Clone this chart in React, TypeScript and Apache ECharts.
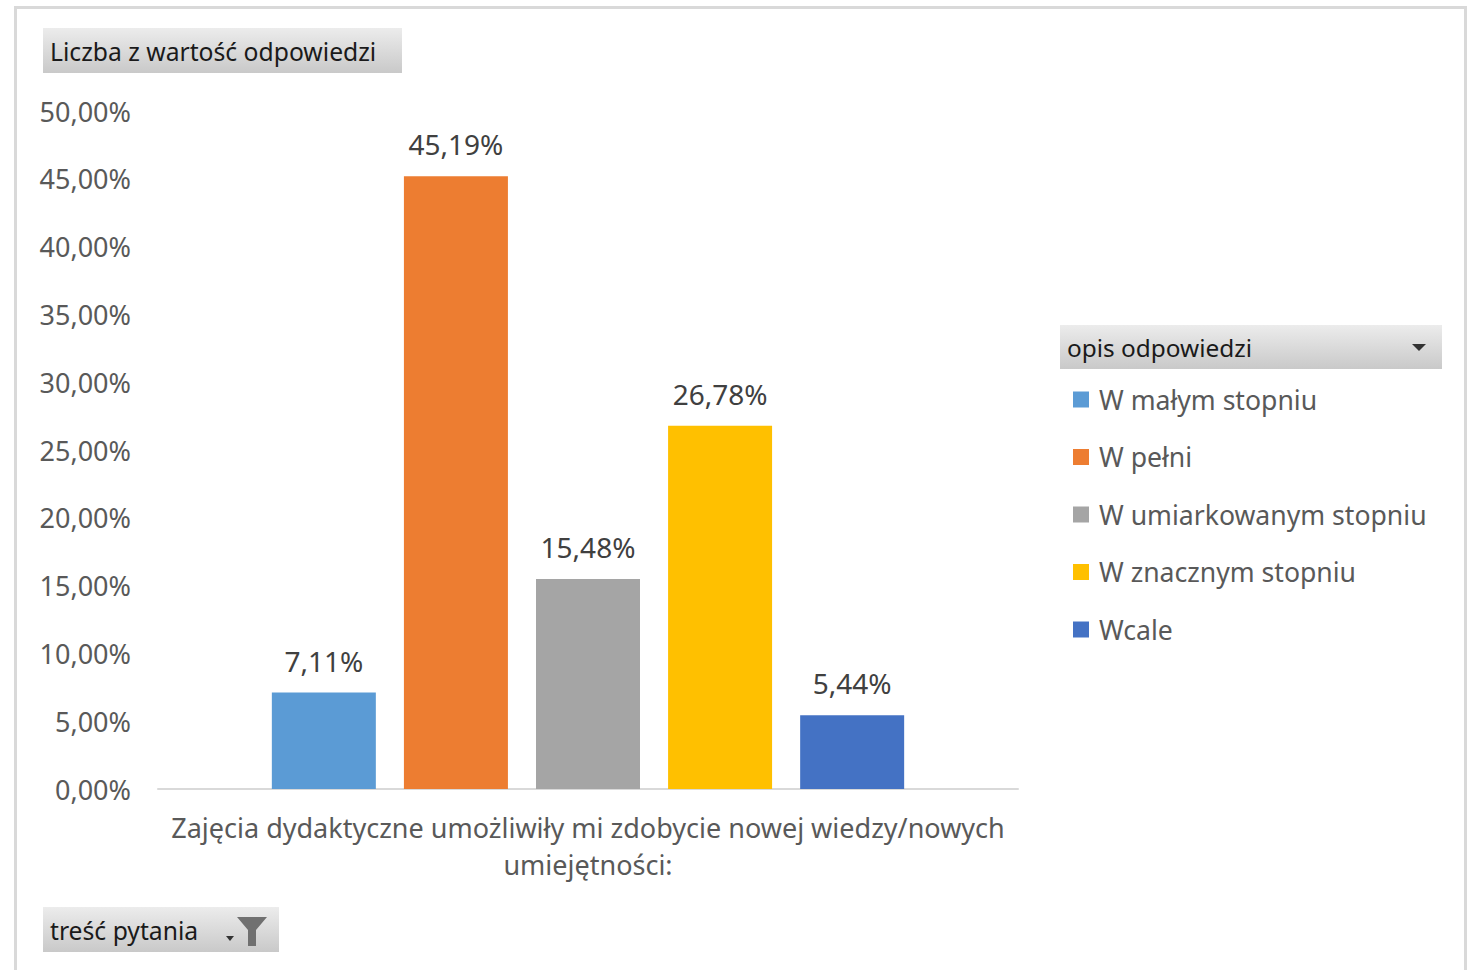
import React, { useEffect, useRef } from "react";
import * as echarts from "echarts";

const categories = ["Zajęcia dydaktyczne umożliwiły mi zdobycie nowej wiedzy/nowych\numiejętności:"];
const seriesNames = ["W małym stopniu", "W pełni", "W umiarkowanym stopniu", "W znacznym stopniu", "Wcale"];
const seriesValues = [7.11, 45.19, 15.48, 26.78, 5.44];
const seriesColors = ["#5B9BD5", "#ED7D31", "#A5A5A5", "#FFC000", "#4472C4"];
const yTicks = { min: 0, max: 50, interval: 5 };
const buttonTitle = "Liczba z wartość odpowiedzi";
const legendTitle = "opis odpowiedzi";
const filterTitle = "treść pytania";

const FONT = "'Noto Sans', sans-serif";
const fmt = (v: number) => v.toFixed(2).replace(".", ",") + "%";

const btnFill = new echarts.graphic.LinearGradient(0, 0, 0, 1, [
  { offset: 0, color: "#ececec" },
  { offset: 1, color: "#c9c9c9" },
]);

export default function App() {
  const ref = useRef<HTMLDivElement>(null);
  useEffect(() => {
    if (!ref.current) return;
    const chart = echarts.init(ref.current, undefined, { renderer: "svg" });
    chart.setOption({
      animation: false,
      backgroundColor: "#ffffff",
      grid: { left: 158, top: 111, width: 860, height: 678, containLabel: false },
      legend: {
        orient: "vertical",
        left: 1068,
        top: 381,
        icon: "rect",
        itemWidth: 16,
        itemHeight: 16,
        itemGap: 30.5,
        selectedMode: false,
        textStyle: { fontFamily: FONT, fontSize: 26.6, color: "#595959", padding: [0, 0, 0, 5] },
        data: seriesNames,
      },
      xAxis: {
        type: "category",
        data: categories,
        axisLine: { lineStyle: { color: "#d9d9d9", width: 2 } },
        axisTick: { show: false },
        axisLabel: {
          fontFamily: FONT,
          fontSize: 27,
          color: "#595959",
          lineHeight: 37,
          margin: 20,
        },
      },
      yAxis: {
        type: "value",
        min: yTicks.min,
        max: yTicks.max,
        interval: yTicks.interval,
        splitLine: { show: false },
        axisLine: { show: false },
        axisTick: { show: false },
        axisLabel: {
          formatter: (v: number) => fmt(v),
          fontFamily: FONT,
          fontSize: 27,
          color: "#595959",
          margin: 27,
        },
      },
      series: seriesNames.map((name, i) => ({
        name,
        type: "bar",
        barWidth: 104,
        barGap: "27%",
        itemStyle: { color: seriesColors[i] },
        label: {
          show: true,
          position: "top",
          distance: 18,
          formatter: (p: any) => fmt(p.value),
          fontFamily: FONT,
          fontSize: 28,
          color: "#404040",
        },
        data: [seriesValues[i]],
      })),
      graphic: [
        {
          type: "rect",
          shape: { x: 15.5, y: 7.5, width: 1450, height: 980 },
          style: { fill: "none", stroke: "#d9d9d9", lineWidth: 3 },
          silent: true,
        },
        {
          type: "rect",
          shape: { x: 43, y: 28, width: 359, height: 45 },
          style: { fill: btnFill },
        },
        {
          type: "text",
          x: 50,
          y: 51,
          style: { text: buttonTitle, fontFamily: FONT, fontSize: 24.7, fill: "#1a1a1a", verticalAlign: "middle" },
        },
        {
          type: "rect",
          shape: { x: 1060, y: 325, width: 382, height: 44 },
          style: { fill: btnFill },
        },
        {
          type: "text",
          x: 1067,
          y: 347,
          style: { text: legendTitle, fontFamily: FONT, fontSize: 24.4, fill: "#1a1a1a", verticalAlign: "middle" },
        },
        {
          type: "polygon",
          shape: { points: [[1412, 344], [1426, 344], [1419, 351]] },
          style: { fill: "#333333" },
        },
        {
          type: "rect",
          shape: { x: 43, y: 907, width: 236, height: 45 },
          style: { fill: btnFill },
        },
        {
          type: "text",
          x: 50,
          y: 930,
          style: { text: filterTitle, fontFamily: FONT, fontSize: 24.7, fill: "#1a1a1a", verticalAlign: "middle" },
        },
        {
          type: "polygon",
          shape: { points: [[226, 936], [234, 936], [230, 941]] },
          style: { fill: "#333333" },
        },
        {
          type: "polygon",
          shape: { points: [[237, 917], [267, 917], [256, 930], [256, 946], [248, 946], [248, 930]] },
          style: { fill: "#707070" },
        },
      ],
    });
    return () => chart.dispose();
  }, []);
  return (
    <div
      ref={ref}
      style={{ position: "fixed", left: 0, top: 0, width: 1471, height: 970 }}
    />
  );
}
